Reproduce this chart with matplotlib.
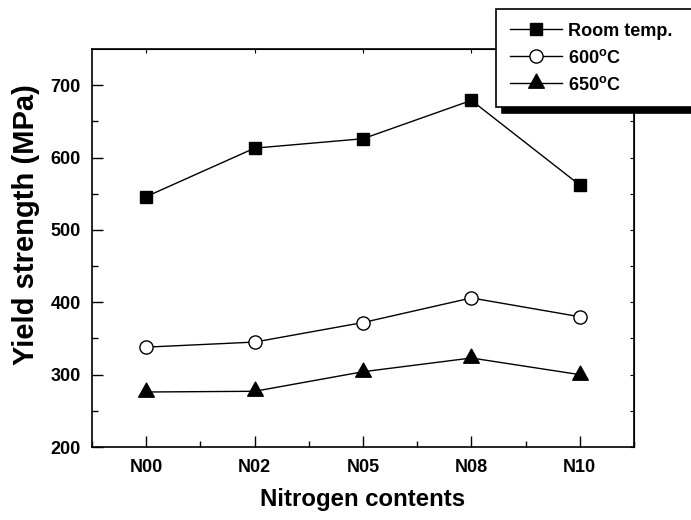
import matplotlib
matplotlib.use("Agg")
import matplotlib.pyplot as plt
from matplotlib.path import Path

# --- Data ---
samples = ["N00", "N02", "N05", "N08", "N10"]
room_temp = [546, 613, 626, 679, 562]
temp_600 = [338, 345, 372, 406, 380]
temp_650 = [276, 277, 304, 323, 300]

plt.rcParams["font.family"] = ["Liberation Sans", "DejaVu Sans"]
plt.rcParams["font.weight"] = "bold"
plt.rcParams["mathtext.fontset"] = "custom"
plt.rcParams["mathtext.bf"] = "Liberation Sans:bold"
plt.rcParams["mathtext.rm"] = "Liberation Sans:bold"

# triangle with its centroid on the data point (Origin style)
tri = Path([(-1, -0.6), (1, -0.6), (0, 1.2), (-1, -0.6)],
           [Path.MOVETO, Path.LINETO, Path.LINETO, Path.CLOSEPOLY])

fig = plt.figure(figsize=(6.91, 5.2), dpi=100)
ax = fig.add_axes([92 / 691, 1 - 447 / 520, 542 / 691, 398 / 520])

x = range(len(samples))
ax.plot(x, room_temp, color="black", lw=1, marker="s", ms=8.5,
        mfc="black", mec="black", label="Room temp.")
ax.plot(x, temp_600, color="black", lw=1, marker="o", ms=9.5,
        mfc="white", mec="black", mew=1, label=r"600$^\mathregular{o}$C")
ax.plot(x, temp_650, color="black", lw=1, marker=tri, ms=13.5,
        mfc="black", mec="black", label=r"650$^\mathregular{o}$C")

ax.set_xlim(-0.5, 4.5)
ax.set_ylim(200, 750)
ax.set_xticks(list(x))
ax.set_xticklabels(samples)
ax.set_xticks([i + 0.5 for i in range(-1, 5)], minor=True)
ax.set_yticks([200, 300, 400, 500, 600, 700])
ax.set_yticks(range(250, 750, 100), minor=True)

ax.tick_params(which="both", direction="in", width=1, labelsize=13)
ax.tick_params(which="major", length=8)
ax.tick_params(which="minor", length=4)
ax.tick_params(axis="x", pad=9)
ax.tick_params(axis="y", pad=8)
for sp in ax.spines.values():
    sp.set_linewidth(1.2)

# short mirrored ticks on top / right
top = ax.secondary_xaxis("top")
top.set_xticks(list(x))
top.tick_params(direction="in", length=3, labeltop=False)
right = ax.secondary_yaxis("right")
right.set_yticks(range(200, 751, 50))
right.tick_params(direction="in", length=3, labelright=False)

ax.set_xlabel("Nitrogen contents", fontsize=17.3, fontweight="bold")
ax.set_ylabel("Yield strength (MPa)", fontsize=21, fontweight="bold")
ax.xaxis.set_label_coords(0.5, -0.133)
ax.yaxis.set_label_coords(-0.122, 0.56)
ax.xaxis.label.set_va("center")
ax.yaxis.label.set_va("center")

leg = ax.legend(loc="upper left", bbox_to_anchor=(496 / 691, 0.5, 0.4, 1 - 9 / 520 - 0.5),
                bbox_transform=fig.transFigure, mode="expand", borderaxespad=0,
                fontsize=13, handlelength=2.9, handletextpad=0.35, borderpad=0.75,
                labelspacing=0.5, fancybox=False, framealpha=1, edgecolor="black",
                shadow={"facecolor": "black", "edgecolor": "black", "alpha": 1,
                        "ox": 4.5, "oy": -4.5})
leg.get_frame().set_linewidth(1.2)

fig.savefig("out.png", dpi=100)
